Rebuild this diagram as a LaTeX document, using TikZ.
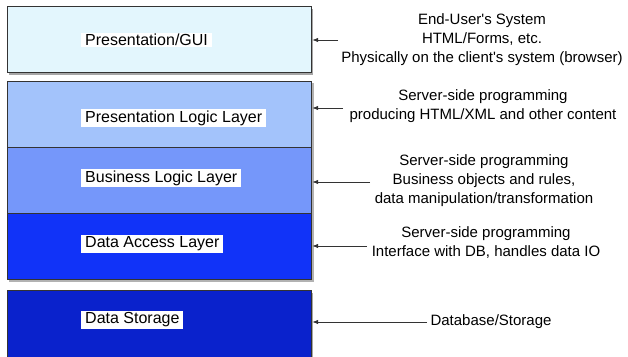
\documentclass[tikz,border=0pt]{standalone}
\usepackage{fontspec}
\setmainfont{Liberation Sans}
\usetikzlibrary{shadows,arrows.meta}
\definecolor{cA}{HTML}{E3F6FD}
\definecolor{cB}{HTML}{A3C3FB}
\definecolor{cC}{HTML}{7597FA}
\definecolor{cD}{HTML}{1133F8}
\definecolor{cE}{HTML}{0A22CC}
\definecolor{edge}{HTML}{333333}
\tikzset{
  layer/.style={draw=edge,line width=1.2pt,minimum width=304pt,anchor=north west,inner sep=0pt},
  shad/.style={drop shadow={shadow xshift=1.5pt,shadow yshift=-2pt,opacity=0.35,fill=black}},
  lbl/.style={fill=white,anchor=west,inner xsep=4pt,inner ysep=1.5pt,font=\fontsize{16}{18}\selectfont},
  note/.style={align=center,font=\fontsize{15}{19}\selectfont,inner sep=2pt},
  arr/.style={draw=black!80,line width=0.8pt,-{Latex[length=6pt,width=4.5pt]}}
}
\begin{document}
\begin{tikzpicture}[x=1pt,y=-1pt]
\useasboundingbox (0,0) rectangle (628,356);
\clip (0,0) rectangle (628,356);
% boxes
\node[layer,fill=cA,minimum height=66pt,shad] (b1) at (7,6) {};
\fill[black,opacity=0.3] (9,83) rectangle (313.5,282);
\node[layer,fill=cB,minimum height=66pt] (b2) at (7,81) {};
\node[layer,fill=cC,minimum height=66pt] (b3) at (7,147) {};
\node[layer,fill=cD,minimum height=66pt] (b4) at (7,213) {};
\node[layer,fill=cE,minimum height=80pt,shad] (b5) at (7,290) {};
% labels
\node[lbl] (l1) at (81,40) {Presentation/GUI};
\node[lbl] (l2) at (81,118) {Presentation Logic Layer};
\node[lbl] (l3) at (81,178) {Business Logic Layer};
\node[lbl] (l4) at (81,244) {Data Access Layer};
\node[lbl] (l5) at (81,320) {Data Storage};
% notes
\node[note] (t1) at (482,40) {End-User\textquotesingle s System\\HTML/Forms, etc.\\Physically on the client\textquotesingle s system (browser)};
\node[note] (t2) at (483,106) {Server-side programming\\producing HTML/XML and other content};
\node[note] (t3) at (484,181) {Server-side programming\\Business objects and rules,\\data manipulation/transformation};
\node[note] (t4) at (486,243) {Server-side programming\\Interface with DB, handles data IO};
\node[note] (t5) at (491,322) {Database/Storage};
% arrows
\coordinate (s1) at (338,40);
\coordinate (s2) at (343,108);
\coordinate (s3) at (370,182);
\coordinate (s4) at (367,246);
\coordinate (s5) at (427,322);
\draw[arr] (s1) -- (s1 -| b1.east);
\draw[arr] (s2) -- (s2 -| b2.east);
\draw[arr] (s3) -- (s3 -| b3.east);
\draw[arr] (s4) -- (s4 -| b4.east);
\draw[arr] (s5) -- (s5 -| b5.east);
\end{tikzpicture}
\end{document}
